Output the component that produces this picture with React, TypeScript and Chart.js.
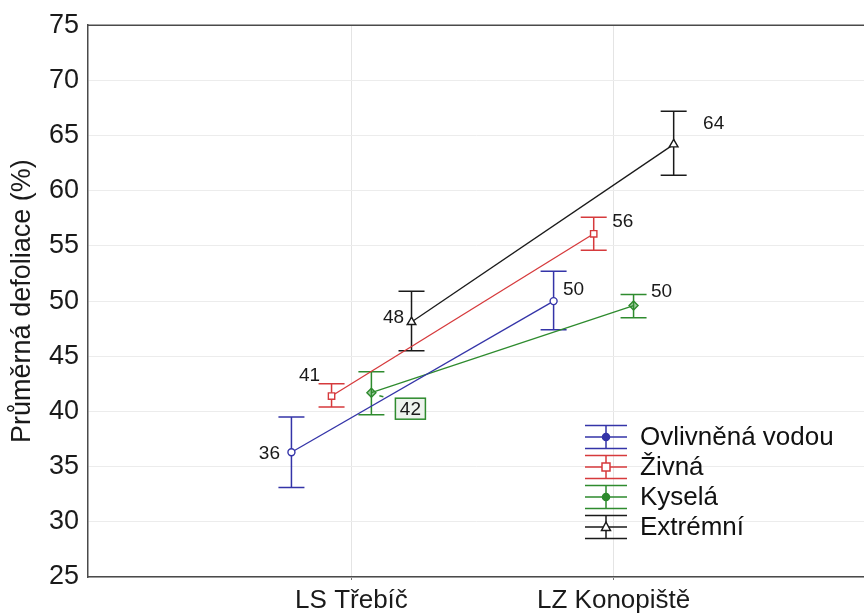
import React, { useEffect, useRef } from "react";
import { Chart, registerables } from "chart.js";

Chart.register(...registerables);

// Sites on the x axis
const sites = ["LS Třebíč", "LZ Konopiště"];

// Site types (series)
const seriesNames = ["Ovlivněná vodou", "Živná", "Kyselá", "Extrémní"];

// Mean defoliation per site, with confidence interval bounds
const meanOvlivnena = [36.3, 50.0];
const lowOvlivnena = [33.1, 47.4];
const highOvlivnena = [39.5, 52.7];

const meanZivna = [41.4, 56.1];
const lowZivna = [40.4, 54.6];
const highZivna = [42.5, 57.6];

const meanKysela = [41.7, 49.6];
const lowKysela = [39.7, 48.5];
const highKysela = [43.6, 50.6];

const meanExtremni = [48.1, 64.2];
const lowExtremni = [45.5, 61.4];
const highExtremni = [50.9, 67.2];

// Y axis range and step
const yMin = 25;
const yMax = 75;
const yStep = 5;

const FONT = "'Liberation Sans', Arial, Helvetica, sans-serif";

// Visual style per series
const styles = [
  { color: "#3434a8", point: "circle", radius: 3.5, fill: "#ffffff", dodge: -0.229 },
  { color: "#d63a3c", point: "rect", radius: 4.5, fill: "#ffffff", dodge: -0.076 },
  { color: "#2e8b2e", point: "rectRot", radius: 4.5, fill: "rgba(46,139,46,0.45)", dodge: 0.076 },
  { color: "#1a1a1a", point: "triangle", radius: 5, fill: "#ffffff", dodge: 0.229 },
];

// Value-label placement (pixel offsets from each point) per series and site
const labelOffsets = [
  [[-22, 0], [20, -12]],
  [[-22, -21], [29, -13]],
  [[39, 16], [28, -15]],
  [[-18, -5], [40, -22]],
];
const boxedLabel = [[false, false], [false, false], [true, false], [false, false]];

const means = [meanOvlivnena, meanZivna, meanKysela, meanExtremni];
const lows = [lowOvlivnena, lowZivna, lowKysela, lowExtremni];
const highs = [highOvlivnena, highZivna, highKysela, highExtremni];

const errorBarPlugin = {
  id: "errorBars",
  beforeDatasetsDraw(chart: any) {
    const { ctx, scales } = chart;
    const xs = scales.x;
    const ys = scales.y;
    ctx.save();
    means.forEach((m, si) => {
      const st = styles[si];
      m.forEach((_, i) => {
        const px = xs.getPixelForValue(i + 1 + st.dodge);
        const top = ys.getPixelForValue(highs[si][i]);
        const bot = ys.getPixelForValue(lows[si][i]);
        ctx.strokeStyle = st.color;
        ctx.lineWidth = 1.5;
        ctx.beginPath();
        ctx.moveTo(px, top);
        ctx.lineTo(px, bot);
        ctx.moveTo(px - 13, top);
        ctx.lineTo(px + 13, top);
        ctx.moveTo(px - 13, bot);
        ctx.lineTo(px + 13, bot);
        ctx.stroke();
      });
    });
    ctx.restore();
  },
  afterDatasetsDraw(chart: any) {
    const { ctx, scales, chartArea } = chart;
    const xs = scales.x;
    const ys = scales.y;
    ctx.save();
    // top frame line
    ctx.strokeStyle = "#4a4a4a";
    ctx.lineWidth = 1.5;
    ctx.beginPath();
    ctx.moveTo(chartArea.left, chartArea.top);
    ctx.lineTo(chartArea.right, chartArea.top);
    ctx.stroke();

    // value labels
    ctx.font = `19px ${FONT}`;
    ctx.textAlign = "center";
    ctx.textBaseline = "middle";
    means.forEach((m, si) => {
      const st = styles[si];
      m.forEach((v, i) => {
        const px = xs.getPixelForValue(i + 1 + st.dodge);
        const py = ys.getPixelForValue(v);
        const [dx, dy] = labelOffsets[si][i];
        const tx = px + dx;
        const ty = py + dy;
        const txt = String(Math.round(v));
        if (boxedLabel[si][i]) {
          ctx.strokeStyle = st.color;
          ctx.lineWidth = 1.5;
          ctx.beginPath();
          ctx.moveTo(px + 8, py + 3);
          ctx.lineTo(px + 12, py + 4);
          ctx.stroke();
          ctx.fillStyle = "#eef3ee";
          ctx.fillRect(tx - 15, ty - 10.5, 30, 21);
          ctx.strokeRect(tx - 15, ty - 10.5, 30, 21);
        }
        ctx.fillStyle = "#1a1a1a";
        ctx.fillText(txt, tx, ty + 1);
      });
    });

    // legend
    const lx = 606;
    const rows = [437, 467, 497, 527];
    seriesNames.forEach((name, si) => {
      const st = styles[si];
      const cy = rows[si];
      ctx.strokeStyle = st.color;
      ctx.lineWidth = 1.5;
      ctx.beginPath();
      for (const dy of [-11.5, 0, 11.5]) {
        ctx.moveTo(lx - 21, cy + dy);
        ctx.lineTo(lx + 21, cy + dy);
      }
      ctx.moveTo(lx, cy - 11.5);
      ctx.lineTo(lx, cy + 11.5);
      ctx.stroke();
      ctx.fillStyle = si === 2 ? st.color : si === 0 ? "#3434a8" : "#ffffff";
      ctx.beginPath();
      if (si === 0 || si === 2) {
        ctx.arc(lx, cy, 3.5, 0, Math.PI * 2);
      } else if (si === 1) {
        ctx.rect(lx - 4, cy - 4, 8, 8);
      } else {
        ctx.moveTo(lx, cy - 5);
        ctx.lineTo(lx + 4.5, cy + 3.5);
        ctx.lineTo(lx - 4.5, cy + 3.5);
        ctx.closePath();
      }
      ctx.fill();
      ctx.stroke();
      ctx.fillStyle = "#111111";
      ctx.font = `26px ${FONT}`;
      ctx.textAlign = "left";
      ctx.textBaseline = "middle";
      ctx.fillText(name, 640, cy + 1);
    });
    ctx.restore();
  },
};

export default function App() {
  const canvasRef = useRef<HTMLCanvasElement | null>(null);

  useEffect(() => {
    if (!canvasRef.current) return;
    document.body.style.margin = "0";
    document.body.style.overflow = "hidden";
    const datasets = seriesNames.map((name, si) => {
      const st = styles[si];
      return {
        label: name,
        data: means[si].map((v, i) => ({ x: i + 1 + st.dodge, y: v })),
        showLine: true,
        borderColor: st.color,
        borderWidth: 1.3,
        pointStyle: st.point,
        pointRadius: st.radius,
        pointBorderWidth: 1.4,
        pointBackgroundColor: st.fill,
        pointBorderColor: st.color,
        fill: false,
      };
    });

    const chart = new Chart(canvasRef.current, {
      type: "scatter",
      data: { datasets: datasets as any },
      plugins: [errorBarPlugin],
      options: {
        animation: false,
        responsive: false,
        layout: { autoPadding: false, padding: { top: 25, left: 0, right: 0, bottom: 0 } },
        plugins: {
          legend: { display: false },
          tooltip: { enabled: false },
        },
        scales: {
          x: {
            type: "linear",
            min: -0.005,
            max: 2.955,
            afterBuildTicks: (axis: any) => {
              axis.ticks = sites.map((_, i) => ({ value: i + 1 }));
            },
            afterFit: (axis: any) => {
              axis.height = 36;
              axis.paddingLeft = 0;
              axis.paddingRight = 0;
            },
            ticks: {
              callback: (v: any) => sites[Number(v) - 1] ?? "",
              font: { family: FONT, size: 26 },
              color: "#1a1a1a",
              padding: 5,
              maxRotation: 0,
              autoSkip: false,
            },
            grid: {
              color: "#e4e4e4",
              lineWidth: 1,
              tickLength: 3,
              tickColor: "#777777",
            },
            border: { color: "#4a4a4a", width: 1.5 },
          },
          y: {
            min: yMin,
            max: yMax,
            afterFit: (axis: any) => {
              axis.width = 88;
            },
            ticks: {
              stepSize: yStep,
              font: { family: FONT, size: 27 },
              color: "#1a1a1a",
              padding: 9,
            },
            grid: { color: "#ececec", lineWidth: 1, drawTicks: false },
            border: { color: "#4a4a4a", width: 1.5 },
            title: {
              display: true,
              text: "Průměrná defoliace (%)",
              font: { family: FONT, size: 27 },
              color: "#1a1a1a",
              padding: { top: 6, bottom: 0 },
            },
          },
        },
      } as any,
    });
    return () => chart.destroy();
  }, []);

  return (
    <div
      style={{
        position: "absolute",
        left: 0,
        top: 0,
        width: 864,
        height: 613,
        overflow: "hidden",
        background: "#ffffff",
      }}
    >
      <canvas ref={canvasRef} width={864} height={613} style={{ display: "block" }} />
    </div>
  );
}
